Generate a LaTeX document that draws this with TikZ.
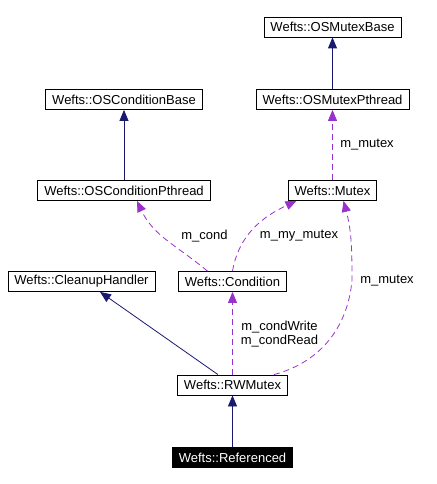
\documentclass[tikz,border=0pt]{standalone}
\usepackage{fontspec}
\setmainfont{Liberation Sans}
\usetikzlibrary{arrows.meta}
\definecolor{inhcol}{RGB}{25,25,112}
\definecolor{memcol}{RGB}{153,50,204}
\begin{document}
\begin{tikzpicture}[x=1pt,y=-1pt,
	font=\fontsize{13}{14}\selectfont,
	cls/.style={draw, line width=0.8pt, inner xsep=6.5pt, inner ysep=0pt, minimum height=20pt},
	inherit/.style={draw=inhcol, line width=0.8pt, -{Triangle[length=11pt,width=9pt]}},
	member/.style={draw=memcol, line width=0.8pt, dash pattern=on 6pt off 4pt, -{Triangle[length=11pt,width=9pt]}},
	lbl/.style={inner sep=0pt, align=center}]
	
	\useasboundingbox (0,0) rectangle (436,484);
	
	\node [cls] (mbase) at (332.5,27) {Wefts::OSMutexBase};
	\node [cls] (cbase) at (124,99.5) {Wefts::OSConditionBase};
	\node [cls] (mpth) at (332.5,99.5) {Wefts::OSMutexPthread};
	\node [cls] (cpth) at (124,190.5) {Wefts::OSConditionPthread};
	\node [cls] (mutex) at (332.5,190.5) {Wefts::Mutex};
	\node [cls] (cleanup) at (81.5,281.5) {Wefts::CleanupHandler};
	\node [cls] (cond) at (232.5,281.5) {Wefts::Condition};
	\node [cls] (rw) at (232.5,385) {Wefts::RWMutex};
	\node [cls, fill=black, text=white] (ref) at (232.5,457.5) {Wefts::Referenced};
	
	\coordinate (bend) at (352,280);
	
	\draw [inherit] (mpth) -- (mbase);
	\draw [inherit] (cpth) -- (cbase);
	\draw [inherit] (ref) -- (rw);
	\draw [inherit] ([xshift=-14.5pt]rw.north) -- ([xshift=18.5pt]cleanup.south);
	
	\draw [member] (mutex) -- (mpth);
	\draw [member] (rw) -- (cond);
	\draw [member] ([xshift=-25pt]cond.north) to[out=140,in=-65] ([xshift=13pt]cpth.south);
	\draw [member] (cond.north) to[out=80,in=205] ([xshift=-36pt]mutex.south);
	\draw [member] ([xshift=-14pt]rw.north east) to[out=15,in=-95] (bend) to[out=90,in=-75] ([xshift=11pt]mutex.south);
	
	\node [lbl] (l1) at (367,145) {m\_mutex};
	\node [lbl] (l2) at (204.5,236) {m\_cond};
	\node [lbl] (l3) at (299,236) {m\_my\_mutex};
	\node [lbl] (l4) at (387,281) {m\_mutex};
	\node [lbl] (l5) at (279.5,334) {m\_condWrite\\m\_condRead};
	
\end{tikzpicture}
\end{document}
